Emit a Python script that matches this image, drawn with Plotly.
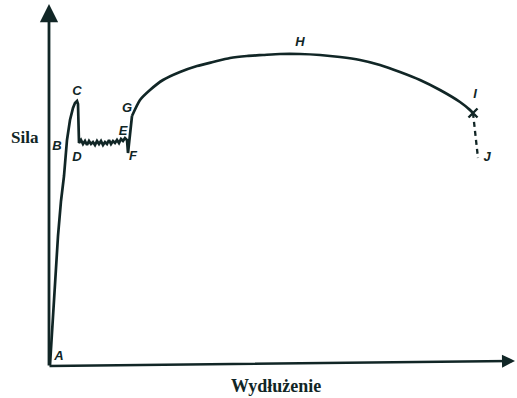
import plotly.graph_objects as go

INK = "#112626"

# Force-elongation diagram of a mild steel tensile test (arbitrary units)
elastic_x = [1, 4, 6, 9, 12, 15, 18, 21, 24, 26, 28]
elastic_y = [1, 50, 86, 130, 165, 190, 226, 246, 258, 263, 265]

drop_x = [28, 29, 30]
drop_y = [265, 262, 223]

yield_x = [30, 32, 34, 36, 38, 40, 42, 44, 46, 48, 50, 52, 54, 56, 58,
           60, 62, 64, 66, 68, 70, 72, 74, 76, 78]
yield_y = [223, 226, 222, 225, 221, 225, 222, 224, 221, 225, 222, 225, 221,
           224, 222, 226, 222, 225, 223, 226, 223, 227, 225, 228, 226]

lower_x = [78, 79, 83]
lower_y = [226, 213, 250]

hardening_x = [83, 91, 101, 114, 131, 148, 164, 181, 198, 214, 231, 251,
               271, 291, 311, 331, 351, 371, 391, 411, 421, 424]
hardening_y = [250, 266, 276, 286, 294, 300, 304, 308, 310, 311, 312, 312,
               311, 309, 306, 301, 294, 286, 276, 264, 256, 253]

fracture_x = [424, 429]
fracture_y = [253, 208]

point_names = ["A", "B", "C", "D", "E", "F", "G", "H", "I", "J"]
point_x = [10, 8, 28, 28, 74, 84, 78, 251, 426, 438]
point_y = [9, 219, 274, 208, 234, 209, 257, 323, 271, 208]

start_x = elastic_x + drop_x[1:] + yield_x[1:] + lower_x[1:]
start_y = elastic_y + drop_y[1:] + yield_y[1:] + lower_y[1:]

fig = go.Figure()

fig.add_trace(go.Scatter(
    x=start_x, y=start_y, mode="lines",
    line=dict(color=INK, width=2.7),
    hoverinfo="skip", cliponaxis=False,
))
fig.add_trace(go.Scatter(
    x=hardening_x, y=hardening_y, mode="lines",
    line=dict(color=INK, width=2.7, shape="spline", smoothing=0.6),
    hoverinfo="skip", cliponaxis=False,
))
fig.add_trace(go.Scatter(
    x=fracture_x, y=fracture_y, mode="lines",
    line=dict(color=INK, width=2.3, dash="5px,4px"),
    hoverinfo="skip", cliponaxis=False,
))
fig.add_trace(go.Scatter(
    x=[hardening_x[-1]], y=[hardening_y[-1]], mode="markers",
    marker=dict(symbol="x-thin", size=9, line=dict(color=INK, width=2.4)),
    hoverinfo="skip", cliponaxis=False,
))
fig.add_trace(go.Scatter(
    x=point_x, y=point_y, mode="text", text=[f"<b><i>{n}</i></b>" for n in point_names],
    textfont=dict(family="Liberation Sans", size=13, color=INK),
    hoverinfo="skip", cliponaxis=False,
))

# Axes drawn as arrows
fig.add_annotation(x=0, y=362, ax=0, ay=-1, xref="x", yref="y", axref="x", ayref="y",
                   text="", showarrow=True, arrowhead=2, arrowsize=1.3,
                   arrowwidth=2.8, arrowcolor=INK)
fig.add_annotation(x=466, y=5, ax=-1, ay=0, xref="x", yref="y", axref="x", ayref="y",
                   text="", showarrow=True, arrowhead=2, arrowsize=1.0,
                   arrowwidth=2.6, arrowcolor=INK)

fig.add_annotation(x=-0.052, y=0.63, xref="paper", yref="paper", text="<b>Sila</b>",
                   xanchor="center", yanchor="middle", showarrow=False,
                   font=dict(family="Liberation Serif", size=17, color=INK))
fig.add_annotation(x=0.487, y=-0.055, xref="paper", yref="paper", text="<b>Wydłużenie</b>",
                   xanchor="center", yanchor="middle", showarrow=False,
                   font=dict(family="Liberation Serif", size=18, color=INK))

fig.update_xaxes(range=[0, 466], visible=False, fixedrange=True)
fig.update_yaxes(range=[0, 362], visible=False, fixedrange=True)
fig.update_layout(
    width=517, height=398,
    margin=dict(l=49, r=2, t=4, b=32),
    paper_bgcolor="white", plot_bgcolor="white",
    showlegend=False,
)

fig.write_html("out.html")
